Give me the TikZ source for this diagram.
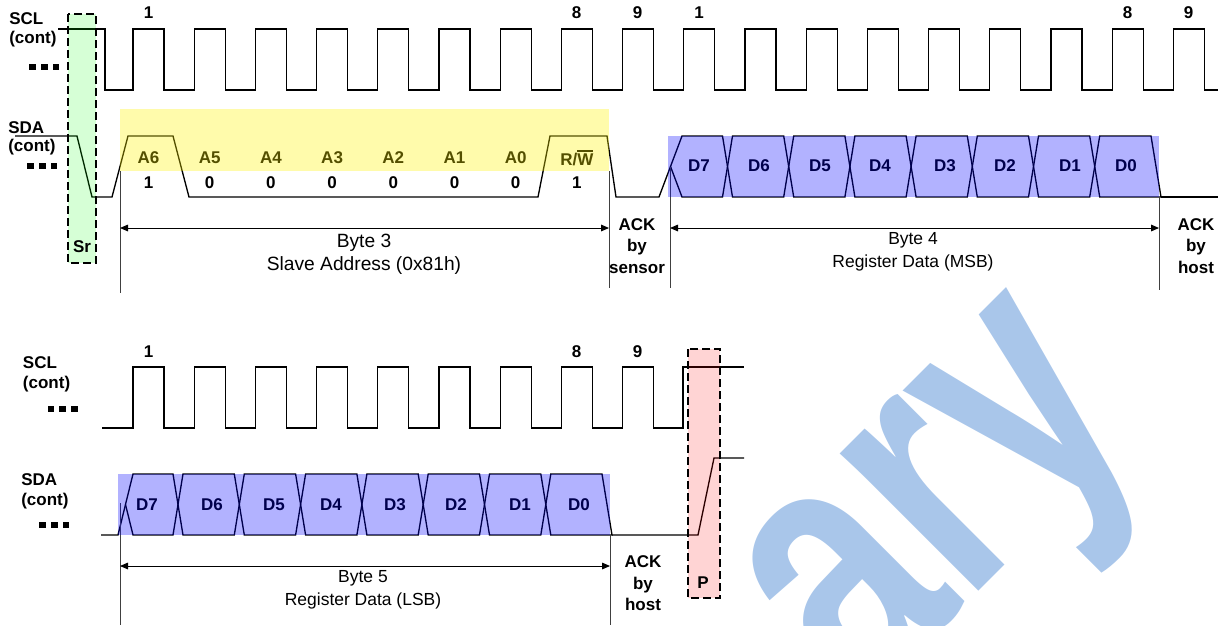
\documentclass[tikz,border=0pt]{standalone}
\usepackage{fontspec}
\setmainfont{Liberation Sans}
\usetikzlibrary{arrows.meta}
\definecolor{wmblue}{RGB}{169,198,234}
\newcommand\datacell[6]{% left centre, left half width, right centre, right half width, top y, bottom y
  \draw[sig] (#1,{(#5+#6)/2}) -- ({#1+#2},#5) -- ({#3-#4},#5) -- (#3,{(#5+#6)/2}) -- ({#3-#4},#6) -- ({#1+#2},#6) -- cycle;}
\newcommand\myovl[1]{\setbox0\hbox{#1}\rlap{\rule[\dimexpr\ht0+1.4pt\relax]{\wd0}{0.9pt}}#1}
\begin{document}
\begin{tikzpicture}[x=0.75pt,y=-0.75pt,
  sig/.style={line width=1pt, line join=miter},
  guide/.style={line width=0.75pt, black!75},
  dim/.style={line width=0.75pt, {Triangle[length=6pt,width=5pt]}-{Triangle[length=6pt,width=5pt]}},
  lbl/.style={font=\fontsize{12.75}{16.1}\selectfont\bfseries, inner sep=0pt},
  txtA/.style={font=\fontsize{14.4}{17}\selectfont, inner sep=0pt},
  txtB/.style={font=\fontsize{13.1}{16}\selectfont, inner sep=0pt},
  markbox/.style={draw=black, line width=1.5pt, dash pattern=on 6pt off 3pt},
  dot/.style={fill=black}]
\useasboundingbox (0,0) rectangle (1227,625);

% watermark
\begin{scope}
  \clip (0,0) rectangle (1227,625);
  \node[anchor=base west, inner sep=0pt, rotate=45, text=wmblue,
        font=\fontsize{277}{280}\selectfont\bfseries] (wm) at (859.2,710.8) {\scalebox{0.73}[1]{ary}};
\end{scope}

% ---------------- top: labels
\node[lbl, anchor=west] (sclT) at (9,18.5) {SCL};
\node[lbl, anchor=west] (sclTc) at (9,39) {(cont)};
\foreach \i in {0,1,2} \fill[dot] ({29.3+11.7*\i},64) rectangle ++(6.6,6);
\node[lbl, anchor=west] (sdaT) at (8,127.5) {SDA};
\node[lbl, anchor=west] (sdaTc) at (8,147) {(cont)};
\foreach \i in {0,1,2} \fill[dot] ({27.3+11.7*\i},163) rectangle ++(6.6,6);

% top SCL
\draw[sig] (58,29) -- (105,29) -- (105,90)
  \foreach \k in {0,...,17} { -- ({133+61.2*\k},90) -- ({133+61.2*\k},29) -- ({164+61.2*\k},29) -- ({164+61.2*\k},90) }
  -- (1218,90);
\node[lbl] (n1a) at (148.5,13) {1};
\node[lbl] (n8a) at (576.5,13) {8};
\node[lbl] (n9a) at (637.5,13) {9};
\node[lbl] (n1b) at (699,13) {1};
\node[lbl] (n8b) at (1127.5,13) {8};
\node[lbl] (n9b) at (1188.5,13) {9};

% top SDA, byte 3
\draw[sig] (15,136) -- (77,136) -- (92,197) -- (112,197) -- (128,136) -- (173,136) -- (189,197)
  -- (538,197) -- (550,136) -- (607,136) -- (616,197) -- (659,197) -- (670.5,166.5);
% byte 4
\datacell{670.5}{11.5}{727.5}{5}{136}{197}
\foreach \k in {0,...,5} {
  \pgfmathsetmacro\cellL{727.5+61.2*\k}
  \pgfmathsetmacro\cellR{727.5+61.2*(\k+1)}
  \datacell{\cellL}{5}{\cellR}{5}{136}{197}
}
\draw[sig] (1094.7,166.5) -- (1099.7,136) -- (1151,136) -- (1161,197) -- (1099.7,197) -- cycle;
\draw[sig] (1161,197) -- (1218,197);

% byte 3 labels
\foreach \t [count=\i from 0] in {A6,A5,A4,A3,A2,A1,A0}
  \node[lbl] (a\i) at ({148.5+61.2*\i},158) {\t};
\node[lbl] (rw) at (576.9,158) {R/\myovl{W}};
\foreach \v [count=\i from 0] in {1,0,0,0,0,0,0,1}
  \node[lbl] (v\i) at ({148.5+61.2*\i},183) {\v};
% byte 4 labels
\foreach \t/\x in {D7/699,D6/759,D5/820,D4/880,D3/945,D2/1005,D1/1070,D0/1126}
  \node[lbl] (top\t) at (\x,166) {\t};

% guides and dimension arrows (top)
\draw[guide] (120,171) -- (120,293);
\draw[guide] (609,171) -- (609,288);
\draw[guide] (670,167) -- (670,288);
\draw[guide] (1159,197) -- (1159,290);
\coordinate (b3L) at (120,228);
\coordinate (b3R) at (609,228);
\coordinate (b4L) at (670,228);
\coordinate (b4R) at (1159,228);
\draw[dim] (b3L) -- (b3R);
\draw[dim] (b4L) -- (b4R);
\node[txtA] (b3a) at (364,243) {Byte 3};
\node[txtA] (b3b) at (364,266) {Slave Address (0x81h)};
\node[txtB] (b4a) at (913,240) {Byte 4};
\node[txtB] (b4b) at (913,263) {Register Data (MSB)};
\node[lbl, align=center] (acks) at (637,246) {ACK\\by\\sensor};
\node[lbl, align=center] (ackh) at (1196,246) {ACK\\by\\host};

% ---------------- bottom: labels
\node[lbl, anchor=west] (sclB) at (22.7,363) {SCL};
\node[lbl, anchor=west] (sclBc) at (22.7,384) {(cont)};
\foreach \i in {0,1,2} \fill[dot] ({47.7+11.7*\i},405.5) rectangle ++(6.6,6);
\node[lbl, anchor=west] (sdaB) at (21,480) {SDA};
\node[lbl, anchor=west] (sdaBc) at (21,501) {(cont)};
\foreach \i in {0,1,2} \fill[dot] ({39.3+11.7*\i},522) rectangle ++(6.6,6);

% bottom SCL
\draw[sig] (102,428)
  \foreach \k in {0,...,8} { -- ({133+61.2*\k},428) -- ({133+61.2*\k},367) -- ({164+61.2*\k},367) -- ({164+61.2*\k},428) }
  -- (683,428) -- (683,367) -- (744,367);
\node[lbl] (n1c) at (148.5,352) {1};
\node[lbl] (n8c) at (576.5,352) {8};
\node[lbl] (n9c) at (637.5,352) {9};

% bottom SDA, byte 5
\draw[sig] (101,535) -- (118,535) -- (125.5,504.5);
\datacell{125.5}{7.5}{178}{5}{474}{535}
\foreach \k in {0,...,5} {
  \pgfmathsetmacro\cellL{178+61.3*\k}
  \pgfmathsetmacro\cellR{178+61.3*(\k+1)}
  \datacell{\cellL}{5}{\cellR}{5}{474}{535}
}
\draw[sig] (545.8,504.5) -- (550.8,474) -- (602,474) -- (612,535) -- (550.8,535) -- cycle;
\draw[sig] (612,535) -- (698,535) -- (714,458) -- (744,458);
\foreach \t/\x in {D7/147,D6/212,D5/274,D4/331,D3/395,D2/456,D1/520,D0/579}
  \node[lbl] (bot\t) at (\x,505) {\t};

\draw[guide] (120,503) -- (120,625);
\draw[guide] (610,535) -- (610,625);
\coordinate (b5L) at (120,566);
\coordinate (b5R) at (610,566);
\draw[dim] (b5L) -- (b5R);
\node[txtB] (b5a) at (363,578) {Byte 5};
\node[txtB] (b5b) at (363,601) {Register Data (LSB)};
\node[lbl, align=center] (ackh2) at (643,583.5) {ACK\\by\\host};

% ---------------- translucent bands and marker boxes
\fill[yellow, fill opacity=0.33] (120,109) rectangle (609,171);
\fill[blue, fill opacity=0.3] (668,136) rectangle (1159,197);
\fill[blue, fill opacity=0.3] (118,474) rectangle (610,535);
\fill[green, fill opacity=0.16] (68,14) rectangle (96,263);
\fill[red, fill opacity=0.17] (688,349) rectangle (720,598);
\draw[markbox] (68,14) rectangle (96,263);
\draw[markbox] (688,349) rectangle (720,598);
\node[lbl] (sr) at (82,247) {Sr};
\node[lbl] (p) at (703,583) {P};
\end{tikzpicture}
\end{document}
